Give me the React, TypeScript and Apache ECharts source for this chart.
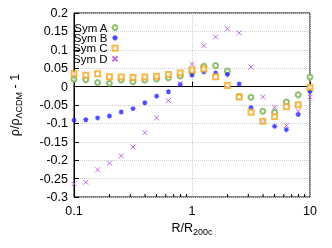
import React, { useEffect, useRef } from "react";
import * as echarts from "echarts";

const R_VALUES = [0.1, 0.1259, 0.1585, 0.1995, 0.2512, 0.3162, 0.3981, 0.5012, 0.631, 0.7943, 1, 1.259, 1.585, 1.995, 2.512, 3.162, 3.981, 5.012, 6.31, 7.943, 10];
const SYM_A = [0.02, 0.019, 0.011, 0.009, 0.018, 0.013, 0.018, 0.021, 0.024, 0.029, 0.04, 0.055, 0.057, 0.042, -0.027, -0.029, -0.067, -0.07, -0.042, -0.022, 0.026];
const SYM_B = [-0.091, -0.09, -0.085, -0.08, -0.069, -0.06, -0.044, -0.026, -0.014, 0.006, 0.031, 0.04, 0.037, 0.033, 0.007, -0.057, -0.094, -0.108, -0.117, -0.076, -0.013];
const SYM_C = [0.035, 0.031, 0.035, 0.027, 0.026, 0.025, 0.026, 0.028, 0.033, 0.037, 0.045, 0.048, 0.027, 0.003, -0.028, -0.07, -0.094, -0.081, -0.055, -0.049, -0.002];
const SYM_D = [-0.264, -0.26, -0.226, -0.208, -0.188, -0.164, -0.125, -0.085, -0.038, 0.008, 0.061, 0.111, 0.135, 0.157, 0.146, 0.053, -0.028, -0.056, -0.106, -0.067, -0.028];
const SERIES_NAMES = ["Sym A", "Sym B", "Sym C", "Sym D"];
const MINOR_X_TICKS = [0.2, 0.3, 0.4, 0.5, 0.6, 0.7, 0.8, 0.9, 2, 3, 4, 5, 6, 7, 8, 9];
const Y_MIN = -0.3;
const Y_MAX = 0.2;
const Y_STEP = 0.05;

const FONT = "Liberation Sans";
const COLORS = ["#72b04a", "#1f1fff", "#f5a623", "#b44be1"];
const X_PATH = "path://M0,0L10,10M10,0L0,10";
const STAR_PATH = "path://M0,5L10,5M5,0L5,10M1.5,1.5L8.5,8.5M8.5,1.5L1.5,8.5";

function pairs(ys: number[]) {
  return R_VALUES.map((x, i) => [x, ys[i]]);
}

export default function App() {
  const ref = useRef<HTMLDivElement>(null);
  useEffect(() => {
    if (!ref.current) return;
    const chart = echarts.init(ref.current, null, { renderer: "svg" });
    const option: any = {
      animation: false,
      textStyle: { fontFamily: FONT },
      grid: {
        left: 65,
        right: 22,
        top: 13,
        bottom: 51,
        show: true,
        borderColor: "#000",
        borderWidth: 1,
        backgroundColor: "transparent",
      },
      legend: {
        data: SERIES_NAMES,
        orient: "vertical",
        left: 73,
        top: 21.5,
        align: "right",
        itemWidth: 5,
        itemHeight: 5,
        itemGap: -1.6,
        padding: 0,
        textStyle: { fontFamily: FONT, fontSize: 11.5, color: "#000", lineHeight: 11 },
      },
      xAxis: {
        type: "log",
        logBase: 10,
        min: 0.1,
        max: 10,
        name: "R/R{sub|200c}",
        nameLocation: "middle",
        nameGap: 19,
        nameTextStyle: {
          fontFamily: FONT,
          fontSize: 12.5,
          color: "#000",
          rich: { sub: { fontFamily: FONT, fontSize: 9, color: "#000", padding: [8, 0, 0, 0] } },
        },
        axisLine: { lineStyle: { color: "#000", width: 1 } },
        axisTick: { inside: true, length: 5, lineStyle: { color: "#000" } },
        axisLabel: { fontFamily: FONT, fontSize: 12.5, color: "#000", margin: 7, formatter: (v: number) => String(v) },
        splitLine: { show: true, lineStyle: { color: "#cfcfcf", type: "dotted", width: 1 } },
      },
      yAxis: {
        type: "value",
        min: Y_MIN,
        max: Y_MAX,
        interval: Y_STEP,
        name: "ρ/ρ{sub|ΛCDM} - 1",
        nameLocation: "middle",
        nameGap: 51,
        nameTextStyle: {
          fontFamily: FONT,
          fontSize: 12.5,
          color: "#000",
          rich: { sub: { fontFamily: FONT, fontSize: 9, color: "#000", padding: [8, 0, 0, 0] } },
        },
        axisLine: { show: true, lineStyle: { color: "#000", width: 1 } },
        axisTick: { show: true, inside: true, length: 5, lineStyle: { color: "#000" } },
        axisLabel: {
          fontFamily: FONT,
          fontSize: 12.5,
          color: "#000",
          margin: 6,
          formatter: (v: number) => String(+v.toFixed(2)),
        },
        splitLine: { show: true, lineStyle: { color: "#cfcfcf", type: "dotted", width: 1 } },
      },
      series: [
        {
          name: "Sym A",
          type: "scatter",
          symbol: "emptyCircle",
          symbolSize: 5,
          itemStyle: { color: COLORS[0], borderColor: COLORS[0], borderWidth: 1 },
          data: pairs(SYM_A),
        },
        {
          name: "Sym B",
          type: "scatter",
          symbol: STAR_PATH,
          symbolSize: 5,
          itemStyle: { color: "none", borderColor: COLORS[1], borderWidth: 1.2 },
          data: pairs(SYM_B),
        },
        {
          name: "Sym C",
          type: "scatter",
          symbol: "emptyRect",
          symbolSize: 5,
          itemStyle: { color: COLORS[2], borderColor: COLORS[2], borderWidth: 1 },
          data: pairs(SYM_C),
        },
        {
          name: "Sym D",
          type: "scatter",
          symbol: X_PATH,
          symbolSize: 5,
          itemStyle: { color: "none", borderColor: COLORS[3], borderWidth: 1 },
          data: pairs(SYM_D),
        },
        {
          type: "custom",
          silent: true,
          data: MINOR_X_TICKS.map((x) => [x, Y_MIN]),
          encode: { x: 0, y: 1 },
          renderItem: (_params: any, api: any) => {
            const p = api.coord([api.value(0), Y_MIN]);
            return {
              type: "line",
              shape: { x1: p[0], y1: p[1], x2: p[0], y2: p[1] - 3 },
              style: { stroke: "#000", lineWidth: 1 },
            };
          },
        },
      ],
    };
    chart.setOption(option);
    return () => chart.dispose();
  }, []);
  return <div ref={ref} style={{ position: "fixed", left: 0, top: 0, width: 332, height: 248 }} />;
}
